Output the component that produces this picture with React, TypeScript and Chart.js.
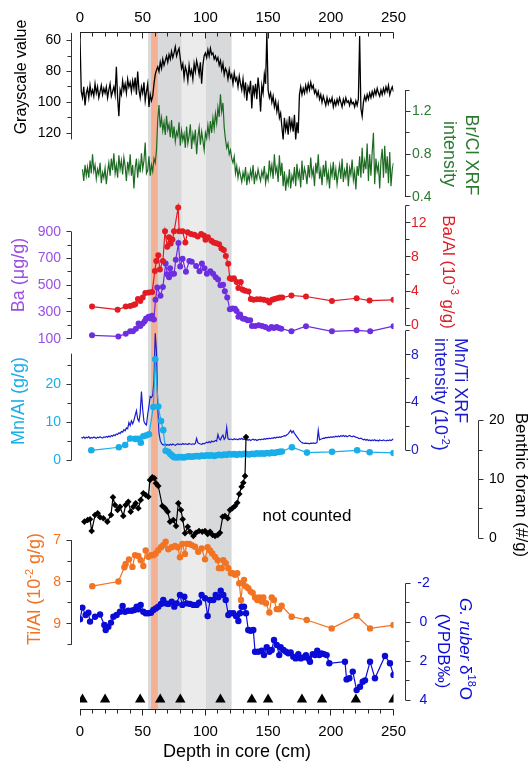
import React, { useEffect, useRef } from "react";
import { Chart, registerables } from "chart.js";

Chart.register(...registerables);

// ---------------- DATA ----------------
// Grayscale, 1 cm sampling from 0 cm
const grayStart = 0;
const grayValue = [
  58, 93, 97, 90, 102, 94, 91, 97, 89, 95,
  92, 96, 88, 94, 90, 97, 93, 89, 95, 91,
  94, 90, 97, 92, 88, 96, 93, 90, 95, 77,
  97, 109, 92, 95, 86, 92, 88, 94, 85, 90,
  87, 93, 86, 91, 84, 95, 80, 92, 97, 90,
  94, 87, 99, 93, 88, 103, 95, 99, 96, 88,
  82, 79, 77, 80, 74, 78, 72, 76, 73, 70,
  74, 69, 72, 67, 71, 68, 64, 70, 67, 65,
  72, 78, 75, 84, 77, 80, 86, 76, 82, 79,
  85, 75, 80, 73, 77, 82, 74, 88, 76, 70,
  68, 71, 66, 70, 65, 69, 68, 72, 70, 73,
  71, 76, 73, 79, 75, 82, 78, 80, 85, 79,
  84, 82, 88, 81, 86, 84, 90, 83, 88, 92,
  85, 94, 87, 99, 90, 93, 86, 104, 89, 95,
  88, 98, 84, 92, 106, 89, 94, 82, 88, 55,
  92, 97, 94, 100, 96, 103, 99, 106, 101, 110,
  107, 116, 124, 110, 118, 113, 121, 109, 117, 112,
  119, 108, 124, 113, 120, 95, 90, 95, 91, 94,
  89, 93, 88, 92, 87, 91, 89, 94, 92, 96,
  93, 98, 95, 100, 96, 99, 102, 97, 101, 98,
  100, 97, 103, 99, 102, 98, 101, 97, 100, 103,
  98, 101, 97, 100, 99, 102, 98, 101, 100, 103,
  99, 102, 98, 57, 104, 109, 100, 96, 99, 95,
  98, 94, 97, 93, 96, 92, 95, 91, 94, 96,
  92, 95, 91, 94, 90, 93, 89, 95, 92, 90,
  93,
];

// Br/Cl XRF intensity, 1 cm sampling from 2 cm
const brclStart = 2;
const brclValue = [
  0.66, 0.55, 0.70, 0.60, 0.68, 0.58, 0.74, 0.62, 0.80, 0.64,
  0.70, 0.57, 0.66, 0.61, 0.72, 0.53, 0.63, 0.58, 0.67, 0.52,
  0.64, 0.72, 0.60, 0.76, 0.65, 0.81, 0.62, 0.70, 0.58, 0.79,
  0.66, 0.74, 0.61, 0.77, 0.69, 0.55, 0.73, 0.64, 0.80, 0.60,
  0.70, 0.48, 0.67, 0.76, 0.58, 0.72, 0.63, 0.81, 0.66, 0.74,
  0.91, 0.62, 0.65, 0.78, 0.60, 0.70, 0.64, 0.76, 0.72, 0.84,
  1.12, 1.26, 1.05, 1.14, 1.02, 1.10, 0.98, 1.16, 1.03, 1.08,
  0.96, 1.12, 0.95, 1.06, 0.92, 1.01, 0.97, 1.10, 0.88, 1.02,
  0.93, 0.99, 0.86, 1.06, 0.90, 0.97, 1.08, 0.85, 0.99, 0.92,
  1.03, 0.80, 0.96, 1.05, 0.89, 1.01, 0.93, 0.84, 1.00, 0.95,
  1.07, 0.97, 1.11, 1.00, 1.14, 1.04, 1.18, 1.09, 1.24, 1.15,
  1.36, 1.20, 1.28, 1.05, 0.94, 0.86, 0.90, 0.80, 0.84, 0.76,
  0.72, 0.78, 0.62, 0.69, 0.58, 0.66, 0.60, 0.54, 0.63, 0.57,
  0.68, 0.51, 0.61, 0.55, 0.65, 0.58, 0.70, 0.52, 0.62, 0.57,
  0.66, 0.60, 0.55, 0.64, 0.59, 0.69, 0.53, 0.61, 0.56, 0.74,
  0.62, 0.70, 0.57, 0.80, 0.63, 0.68, 0.54, 0.79, 0.60, 0.72,
  0.50, 0.64, 0.46, 0.58, 0.52, 0.66, 0.48, 0.60, 0.55, 0.68,
  0.50, 0.71, 0.58, 0.64, 0.49, 0.74, 0.56, 0.67, 0.62, 0.52,
  0.70, 0.58, 0.77, 0.60, 0.66, 0.50, 0.72, 0.62, 0.80, 0.57,
  0.65, 0.51, 0.70, 0.59, 0.74, 0.55, 0.63, 0.48, 0.68, 0.60,
  0.73, 0.56, 0.66, 0.52, 0.62, 0.70, 0.57, 0.76, 0.54, 0.65,
  0.59, 0.72, 0.50, 0.67, 0.61, 0.75, 0.56, 0.64, 0.47, 0.69,
  0.60, 0.78, 0.58, 0.86, 0.62, 0.74, 0.66, 0.90, 0.55, 0.80,
  0.60, 0.82, 1.00, 0.52, 0.76, 0.64, 0.70, 0.48, 0.74, 0.85,
  0.58, 0.88, 0.62, 0.78, 0.53, 0.82, 0.50, 0.66, 0.72,
];

// Ba/Al (10^-3 g/g)
const baalDepth = [
  9.6, 30, 36.5, 40, 42.7, 44, 46.2, 48.1, 50, 52.1, 54.8, 57.5, 59.7, 60.8, 62.4, 63.7, 66.1, 67.8, 69.6, 71,
  72.3, 73.7, 75, 78.3, 79.1, 81.8, 84, 85.8, 88.5, 91.2, 93.9, 96.6, 98.8, 100.1, 102, 104.7, 106.6, 108.7, 110.9, 112.8,
  114.7, 116.3, 118.2, 119.5, 120.9, 122.7, 124.9, 126.3, 128.2, 129.8, 131.7, 134.4, 136.2, 138.4, 141.1, 143.8, 146.5, 149.2, 151, 153.2,
  155.1, 157.3, 159.4, 161.3, 168.6, 180.2, 200.9, 220.6, 230.9, 250,
];
const baalValue = [
  2.18, 1.82, 2.18, 2.26, 2.38, 2.46, 3.08, 2.84, 3.24, 3.76, 3.84, 3.88, 6.34, 7.53, 8.2, 6.54, 7.53, 11.0, 9.19, 10.3,
  9.58, 10.04, 11.0, 13.8, 11.0, 11.0, 9.7, 10.9, 10.7, 10.6, 10.4, 10.7, 10.5, 10.0, 10.3, 9.9, 9.7, 9.6, 9.5, 9.0,
  8.8, 8.1, 7.2, 5.5, 5.4, 5.5, 5.07, 4.35, 5.07, 4.16, 4.04, 3.96, 3.08, 2.97, 3.05, 3.05, 2.97, 2.89, 2.66, 2.97,
  3.08, 3.16, 3.24, 3.24, 3.48, 3.36, 2.84, 3.16, 2.89, 2.97,
];

// Ba (ug/g)
const baDepth = [
  9.6, 30.6, 36.5, 40, 42.2, 44.6, 46.7, 48.1, 50, 51.6, 52.7, 54.8, 56.2, 57.5, 58.9, 60.2, 61.6, 64.2, 66.1, 68.3,
  69.6, 71, 71.8, 73.7, 75, 76.4, 78.5, 79.9, 81.8, 84.5, 87.2, 89.1, 92.6, 95.3, 97.2, 99.3, 101.2, 103.9, 106.1, 108.2,
  110.1, 112, 114.1, 115.5, 117.4, 119.5, 121.7, 123.6, 124.9, 126.3, 127.7, 129.8, 131.7, 133.6, 135.7, 137.1, 139.7, 142.5, 145.2, 147.8,
  150.6, 152.7, 154.6, 156.8, 158.6, 160.5, 168.6, 180.2, 200.9, 220.6, 231.4, 250,
];
const baValue = [
  125, 117, 137, 155, 155, 175, 213, 195, 213, 231, 252, 264, 252, 272, 244, 391, 484, 421, 488, 663,
  582, 561, 627, 586, 586, 692, 816, 641, 698, 602, 682, 677, 644, 606, 663, 627, 586, 606, 586, 561,
  543, 500, 505, 455, 409, 320, 327, 324, 307, 264, 282, 252, 247, 239, 239, 195, 195, 201, 195, 188,
  175, 188, 181, 188, 181, 175, 155, 194, 155, 163, 155, 194,
];

// Mn/Al (g/g)
const mnalDepth = [
  9, 31, 36, 40, 44, 46.5, 48.5, 50.5, 52.5, 55, 58.5, 60, 62.4, 64.6, 66.4, 68.3, 70.4, 72, 73.5, 75,
  77, 79, 81, 83, 85, 87, 89, 91, 93, 95, 97, 99, 101, 103, 105, 107, 109, 111, 113, 115,
  117, 119, 121, 123, 125, 127, 129, 131, 133, 135, 137, 139, 141, 143, 145, 147, 149, 151, 153, 155,
  157, 159, 161, 169, 181, 201, 221, 231, 250,
];
const mnalValue = [
  2.6, 3.4, 4.0, 5.7, 5.6, 5.6, 4.6, 6.3, 6.5, 6.8, 14.0, 26.5, 14.1, 10.3, 7.9, 2.5, 2.2, 1.6, 1.2, 0.8,
  0.7, 0.8, 0.8, 0.7, 0.9, 1.0, 0.9, 1.0, 1.1, 1.0, 1.2, 1.1, 1.3, 1.2, 1.3, 1.1, 1.3, 1.4, 1.3, 1.5,
  1.4, 1.6, 1.5, 1.6, 1.4, 1.6, 1.5, 1.7, 1.6, 1.5, 1.7, 1.6, 1.8, 1.7, 1.8, 1.7, 1.9, 1.8, 2.0, 1.9,
  2.1, 2.2, 2.3, 3.4, 2.0, 2.2, 2.6, 2.1, 1.9,
];

// Mn/Ti XRF intensity (10^-2), 1 cm sampling from 1 cm
const mntiStart = 1;
const mntiValue = [
  1.05, 1.00, 1.10, 0.98, 1.08, 1.02, 1.12, 0.97, 1.05, 1.00,
  1.10, 1.04, 0.98, 1.08, 1.02, 1.12, 1.05, 1.00, 1.10, 1.06,
  1.14, 1.08, 1.18, 1.10, 1.22, 1.15, 1.28, 1.20, 1.35, 1.30,
  1.45, 1.38, 1.55, 1.50, 1.70, 1.62, 1.85, 1.78, 2.30, 2.05,
  2.45, 2.20, 2.50, 2.90, 3.30, 2.60, 2.40, 3.10, 4.90, 3.40,
  2.40, 2.20, 2.10, 3.00, 3.70, 4.50, 4.40, 4.60, 5.90, 9.80,
  8.20, 3.60, 1.40, 0.80, 0.55, 0.45, 0.42, 0.50, 0.40, 0.45,
  0.40, 0.48, 0.42, 0.50, 0.44, 0.40, 0.46, 0.52, 0.45, 0.50,
  0.45, 0.55, 0.48, 0.52, 0.50, 0.46, 0.55, 0.50, 0.48, 0.52,
  0.48, 0.55, 0.98, 0.60, 0.55, 0.50, 0.48, 0.55, 0.52, 0.58,
  0.65, 0.60, 0.70, 0.62, 0.75, 0.68, 0.72, 0.80, 0.74, 1.30,
  0.95, 0.85, 1.10, 1.25, 0.90, 1.05, 1.90, 0.95, 0.88, 0.92,
  0.90, 0.85, 0.95, 0.88, 0.92, 0.86, 0.95, 0.90, 0.98, 0.88,
  0.92, 0.85, 0.90, 0.82, 0.88, 0.80, 0.86, 0.90, 0.84, 0.88,
  0.80, 0.85, 0.90, 0.86, 0.92, 0.88, 0.95, 0.90, 0.98, 0.94,
  1.00, 0.95, 1.02, 0.98, 1.05, 1.00, 1.08, 1.04, 1.10, 1.06,
  1.12, 1.15, 1.20, 1.18, 1.28, 1.35, 1.50, 1.65, 1.45, 1.60,
  1.40, 1.25, 1.10, 0.95, 0.80, 0.70, 0.62, 0.58, 0.55, 0.58,
  0.55, 0.56, 0.52, 0.58, 0.55, 0.60, 0.56, 0.58, 0.62, 1.65,
  0.85, 0.90, 0.95, 1.00, 0.98, 1.05, 1.02, 1.08, 1.05, 1.10,
  1.06, 1.12, 1.08, 1.15, 1.10, 1.18, 1.12, 1.20, 1.15, 1.22,
  1.14, 1.20, 1.12, 1.18, 1.22, 1.15, 1.10, 1.18, 1.12, 1.08,
  1.05, 1.00, 0.95, 1.00, 0.92, 0.85, 0.90, 0.82, 0.88, 0.80,
  0.85, 0.78, 0.84, 0.80, 0.86, 0.78, 0.82, 0.76, 0.84, 0.80,
  0.78, 0.85, 0.80, 0.76, 0.82, 0.78, 0.84, 0.80, 0.86, 0.96,
];

// Benthic foraminifera (#/g)
const benDepth = [
  3.5, 6.1, 8, 9.3, 12, 14.1, 16, 18.6, 21.8, 24.7, 26.3, 27.9, 30, 31.9, 34.5, 36.4, 38.5, 40.4, 42.5, 44.4,
  46.5, 48.4, 50.5, 52.4, 54.5, 55.8, 57.7, 59.3, 60.6, 62.4, 65.7, 67.8, 69.9, 71.8, 74.4, 76.6, 78.4, 80.5, 81.9, 83.7,
  85.9, 87.7, 90.4, 92.5, 94.9, 97.5, 99.7, 101.8, 103.7, 105.8, 107.7, 109.8, 111.6, 113.8, 115.6, 117.8, 119.6, 121.5, 123.6, 125.4,
  127, 128.9, 130.2, 131.6, 132.4,
];
const benValue = [
  2.84, 3.12, 3.24, 1.26, 3.97, 4.26, 3.58, 3.41, 2.84, 3.97, 6.98, 5.67, 4.82, 5.38, 3.8, 5.67, 6.23, 4.54, 5.38, 5.96,
  5.11, 6.52, 7.66, 7.37, 7.08, 9.92, 10.37, 10.2, 9.35, 8.9, 5.5, 5.1, 4.54, 2.84, 3.12, 2.1, 5.96, 4.82, 3.24, 0.87,
  1.99, 1.14, 0.41, 0.97, 1.26, 1.14, 1.26, 0.75, 1.14, 0.58, 0.41, 0.58, 0.97, 3.68, 3.8, 3.41, 4.82, 5.11, 5.5, 6.06,
  7.54, 8.78, 9.46, 10.6, 17.2,
];

// Ti/Al (10^-2 g/g)
const tialDepth = [
  9.8, 30.6, 35.4, 36.4, 39.1, 41.8, 43.9, 46.5, 48.4, 50.5, 52.4, 54.5, 56.6, 58.5, 60.4, 62.4, 64.6, 66.4, 68.3, 70.4,
  73.1, 75.8, 77.9, 79.7, 81.6, 83.7, 85.1, 87.2, 89.1, 91.7, 94.3, 97, 99.7, 101.8, 103.7, 105.5, 107.7, 109.8, 110.8, 113,
  114.3, 116.2, 118.3, 120.4, 121.7, 123.6, 125.4, 127, 128.4, 129.7, 130.8, 132.4, 134.2, 136.1, 137.7, 139.6, 141.4, 143, 144.9, 146.2,
  148.3, 151, 152.9, 154.7, 156.9, 158.9, 160.8, 168.8, 180.8, 200.7, 220.6, 231.3, 250,
];
const tialValue = [
  8.10, 7.99, 7.65, 7.57, 7.46, 7.64, 7.36, 7.38, 7.48, 7.62, 7.25, 7.40, 7.36, 7.36, 7.32, 7.24, 7.17, 7.12, 7.04, 7.22,
  7.17, 7.14, 7.17, 7.41, 7.09, 7.33, 7.09, 7.09, 7.12, 7.16, 7.28, 7.20, 7.46, 7.17, 7.25, 7.32, 7.40, 7.48, 7.67, 7.67,
  7.48, 7.55, 7.67, 7.79, 7.79, 7.83, 7.79, 8.03, 8.43, 8.03, 7.95, 8.11, 8.15, 8.23, 8.26, 8.37, 8.43, 8.37, 8.47, 8.37,
  8.51, 8.73, 8.37, 8.43, 8.65, 8.65, 8.57, 8.83, 8.91, 9.11, 8.81, 9.11, 9.03,
];

// G. ruber d18O (VPDB permil)
const d18oDepth = [
  0, 1.9, 4.5, 6.7, 8, 12, 16, 19.4, 20.5, 22.6, 24.7, 26.6, 29.2, 31.9, 34, 35.9, 38.5, 41.2, 43.3, 45.2,
  46.5, 48.4, 50.5, 52.4, 54.5, 56.6, 58.5, 60.4, 62.4, 64.6, 66.4, 68.3, 70.4, 73.1, 75.2, 77.1, 79.7, 81.6, 83.2, 85.1,
  87.7, 90.4, 93, 94.9, 97, 99.7, 101.8, 103.7, 106.3, 108.2, 110.3, 112.2, 114.3, 116.2, 118.3, 119.6, 122.3, 124.4, 126.3, 127.6,
  128.9, 130.8, 132.4, 134.2, 136.1, 138.2, 139.6, 142.2, 144.9, 146.7, 148.9, 151, 152.9, 154.7, 156.9, 158.9, 160, 162.2, 164.3, 166.1,
  168, 170.1, 172, 174.1, 176, 178.1, 180.2, 182.1, 183.4, 185.6, 187.4, 189.2, 190.8, 192.7, 194.6, 196.7, 198.8, 211.3, 212.6, 214.8,
  217.5, 220.6, 223.3, 225.4, 227.3, 231.3, 235.2, 243.2, 247.2, 250,
];
const d18oValue = [
  -0.16, -0.76, -0.38, -0.5, -0.04, -0.29, -0.41, 0.13, 0.39, 0.22, 0.01, -0.29, -0.38, -0.55, -0.84, -0.55, -0.6, -0.6, -0.64, -0.81,
  -0.67, -0.9, -0.55, -0.47, -0.47, -0.5, -0.64, -0.72, -0.81, -0.95, -1.15, -0.98, -0.95, -1.06, -0.81, -0.98, -1.41, -0.9, -1.32, -0.98,
  -0.95, -0.9, -0.9, -1.01, -1.41, -1.24, -0.33, -1.15, -1.15, -1.41, -1.29, -1.63, -1.41, -1.15, -0.38, -0.47, -0.47, -0.33, -0.07, -0.47,
  -0.81, -0.81, -0.47, 0.39, 0.43, 0.39, 1.51, 1.51, 1.46, 1.68, 1.28, 1.51, 1.42, 0.9, 1.16, 1.68, 1.28, 1.42, 1.51, 1.59,
  1.55, 1.76, 1.85, 1.63, 1.85, 1.8, 1.68, 1.85, 2.02, 1.63, 1.68, 1.46, 1.68, 1.59, 1.63, 1.68, 2.1, 2.02, 2.93, 2.87,
  2.53, 3.48, 3.31, 3.05, 2.98, 2.02, 2.87, 1.73, 2.1, 2.7,
];

// Age-control points (triangles)
const ageDepth = [2, 20, 48, 64, 80, 112, 137, 150, 177, 193, 220, 250];
const ageMarkerLevel = 1.4;

// Shaded intervals (cm)
const shadeFrom = [54.3, 81.2, 100.4, 56.7];
const shadeTo = [81.2, 100.4, 120.9, 62.1];

// Axis ticks
const depthMajorTicks = [0, 50, 100, 150, 200, 250];

// ---------------- STYLE / LAYOUT ----------------
const W = 530;
const H = 761;
const AREA = { left: 80, right: 393.5, top: 32.5, bottom: 709 };
const FONT = '"Liberation Sans", Arial, Helvetica, sans-serif';

const C = {
  gray: "#000000",
  green: "#1d6b22",
  greenLbl: "#2c7a30",
  red: "#e31b23",
  purple: "#6d2ee0",
  purpleLbl: "#9a4fe4",
  cyan: "#19aeea",
  blue: "#1c1cd0",
  blue2: "#0b0bd6",
  orange: "#f27321",
  axis: "#333333",
  dark: "#d8d9db",
  light: "#eaebea",
  salmon: "#f5b094",
};
const shadeColor = [C.dark, C.light, C.dark, C.salmon];

// value->pixel anchors for each y scale
function scaleFrom(v1: number, p1: number, v2: number, p2: number) {
  const k = (v2 - v1) / (p2 - p1);
  const vTop = v1 + (AREA.top - p1) * k;
  const vBot = v1 + (AREA.bottom - p1) * k;
  return { min: Math.min(vTop, vBot), max: Math.max(vTop, vBot), reverse: vTop < vBot };
}

const Y = {
  yGray: scaleFrom(60, 40.6, 120, 133.2),
  yBrcl: scaleFrom(1.2, 111.5, 0.4, 197),
  yBaal: scaleFrom(12, 222.8, 0, 325.2),
  yBa: scaleFrom(900, 231.9, 100, 338.7),
  yMnal: scaleFrom(20, 384.1, 0, 460.2),
  yMnti: scaleFrom(8, 354.7, 0, 450),
  yBen: scaleFrom(20, 420.6, 0, 538.4),
  yTial: scaleFrom(7, 540.1, 9, 623.8),
  yD18o: scaleFrom(-2, 583.5, 4, 700.2),
  yTri: scaleFrom(0, AREA.bottom, 100, AREA.top),
};

type AxisSpec = {
  id: string; x: number; side: "left" | "right"; from: number; to: number;
  ticks: number[]; labels: [number, string][]; color: string; lblX: number; lblAlign: CanvasTextAlign;
};

const AXES: AxisSpec[] = [
  { id: "yGray", x: 71, side: "left", from: 55, to: 124, ticks: [60, 70, 80, 90, 100, 110, 120],
    labels: [[60, "60"], [80, "80"], [100, "100"], [120, "120"]], color: "#000", lblX: 61, lblAlign: "right" },
  { id: "yBrcl", x: 405, side: "right", from: 0.4, to: 1.4, ticks: [0.4, 0.6, 0.8, 1.0, 1.2, 1.4],
    labels: [[0.4, "0.4"], [0.8, "0.8"], [1.2, "1.2"]], color: C.greenLbl, lblX: 412, lblAlign: "left" },
  { id: "yBaal", x: 405, side: "right", from: 0, to: 14, ticks: [0, 2, 4, 6, 8, 10, 12, 14],
    labels: [[0, "0"], [4, "4"], [8, "8"], [12, "12"]], color: C.red, lblX: 411, lblAlign: "left" },
  { id: "yBa", x: 71, side: "left", from: 100, to: 900, ticks: [100, 200, 300, 400, 500, 600, 700, 800, 900],
    labels: [[100, "100"], [300, "300"], [500, "500"], [700, "700"], [900, "900"]], color: C.purpleLbl, lblX: 61, lblAlign: "right" },
  { id: "yMnal", x: 71, side: "left", from: 0, to: 28, ticks: [0, 5, 10, 15, 20, 25],
    labels: [[0, "0"], [10, "10"], [20, "20"]], color: C.cyan, lblX: 61, lblAlign: "right" },
  { id: "yMnti", x: 405, side: "right", from: 0, to: 10, ticks: [0, 2, 4, 6, 8, 10],
    labels: [[0, "0"], [4, "4"], [8, "8"]], color: C.blue, lblX: 411, lblAlign: "left" },
  { id: "yBen", x: 478, side: "right", from: 0, to: 20, ticks: [0, 5, 10, 15, 20],
    labels: [[0, "0"], [10, "10"], [20, "20"]], color: "#000", lblX: 489, lblAlign: "left" },
  { id: "yTial", x: 71, side: "left", from: 7, to: 9.5, ticks: [7, 7.5, 8, 8.5, 9, 9.5],
    labels: [[7, "7"], [8, "8"], [9, "9"]], color: C.orange, lblX: 61, lblAlign: "right" },
  { id: "yD18o", x: 405, side: "right", from: -2, to: 4, ticks: [-2, -1, 0, 1, 2, 3, 4],
    labels: [[-2, "-2"], [0, "0"], [2, "2"], [4, "4"]], color: C.blue2, lblX: 423.5, lblAlign: "center" },
];

type Seg = { t: string; i?: boolean; s?: boolean };
type Title = { segs: Seg[]; x: number; y: number; rot: number; color: string; size: number; align?: "center" | "left" };

const TITLES: Title[] = [
  { segs: [{ t: "Grayscale value" }], x: 22, y: 77, rot: -90, color: "#000", size: 16 },
  { segs: [{ t: "Br/Cl XRF" }], x: 471, y: 155, rot: 90, color: C.greenLbl, size: 18 },
  { segs: [{ t: "intensity" }], x: 449, y: 154, rot: 90, color: C.greenLbl, size: 18 },
  { segs: [{ t: "Ba (μg/g)" }], x: 19, y: 275, rot: -90, color: C.purpleLbl, size: 18 },
  { segs: [{ t: "Ba/Al (10" }, { t: "-3", s: true }, { t: " g/g)" }], x: 448, y: 272, rot: 90, color: C.red, size: 17 },
  { segs: [{ t: "Mn/Al (g/g)" }], x: 19, y: 401, rot: -90, color: C.cyan, size: 18 },
  { segs: [{ t: "Mn/Ti XRF" }], x: 460, y: 338, rot: 90, color: C.blue, size: 18, align: "left" },
  { segs: [{ t: "intensity (10" }, { t: "-2", s: true }, { t: ")" }], x: 439.5, y: 338, rot: 90, color: C.blue, size: 18, align: "left" },
  { segs: [{ t: "Benthic foram (#/g)" }], x: 521, y: 485, rot: 90, color: "#000", size: 17 },
  { segs: [{ t: "Ti/Al (10" }, { t: "-2", s: true }, { t: " g/g)" }], x: 35.5, y: 589, rot: -90, color: C.orange, size: 18 },
  { segs: [{ t: "G. ruber", i: true }, { t: " δ" }, { t: "18", s: true }, { t: "O" }], x: 465, y: 649, rot: 90, color: C.blue2, size: 17 },
  { segs: [{ t: "(VPDB‰)" }], x: 443, y: 651, rot: 90, color: C.blue2, size: 17 },
  { segs: [{ t: "not counted" }], x: 307, y: 516, rot: 0, color: "#000", size: 17 },
  { segs: [{ t: "Depth in core (cm)" }], x: 237, y: 752, rot: 0, color: "#000", size: 18 },
];

function drawRich(ctx: CanvasRenderingContext2D, tt: Title) {
  const fontOf = (sg: Seg) => `${sg.i ? "italic " : ""}${sg.s ? Math.round(tt.size * 0.62) : tt.size}px ${FONT}`;
  ctx.save();
  ctx.translate(tt.x, tt.y);
  ctx.rotate((tt.rot * Math.PI) / 180);
  ctx.fillStyle = tt.color;
  ctx.textBaseline = "middle";
  ctx.textAlign = "left";
  let total = 0;
  for (const sg of tt.segs) { ctx.font = fontOf(sg); total += ctx.measureText(sg.t).width; }
  let cx = tt.align === "left" ? 0 : -total / 2;
  for (const sg of tt.segs) {
    ctx.font = fontOf(sg);
    ctx.fillText(sg.t, cx, sg.s ? -tt.size * 0.33 : 0);
    cx += ctx.measureText(sg.t).width;
  }
  ctx.restore();
}

const crisp = (v: number) => Math.round(v - 0.5) + 0.5;

const overlayPlugin = {
  id: "overlay",
  beforeDatasetsDraw(chart: any) {
    const { ctx, chartArea, scales } = chart;
    const xs = scales.x;
    ctx.save();
    for (let i = 0; i < shadeFrom.length; i++) {
      const x1 = xs.getPixelForValue(shadeFrom[i]);
      const x2 = xs.getPixelForValue(shadeTo[i]);
      ctx.fillStyle = shadeColor[i];
      ctx.fillRect(x1, chartArea.top, x2 - x1, chartArea.bottom - chartArea.top);
    }
    ctx.restore();
  },
  afterDatasetsDraw(chart: any) {
    const { ctx, chartArea, scales } = chart;
    const xs = scales.x;
    ctx.save();
    ctx.lineWidth = 1;
    ctx.strokeStyle = C.axis;

    // top and bottom depth axes
    const x0 = xs.getPixelForValue(0);
    const x1 = xs.getPixelForValue(250);
    for (const [yy, lblY] of [[crisp(chartArea.top), 18], [crisp(chartArea.bottom), 732]] as [number, number][]) {
      ctx.strokeStyle = "#222";
      ctx.beginPath();
      ctx.moveTo(x0, yy);
      ctx.lineTo(x1, yy);
      for (let d = 0; d <= 250; d += 10) {
        const px = crisp(xs.getPixelForValue(d));
        const len = d % 50 === 0 ? 6 : 4;
        ctx.moveTo(px, yy);
        ctx.lineTo(px, yy + len);
      }
      ctx.stroke();
      ctx.fillStyle = "#000";
      ctx.font = `15px ${FONT}`;
      ctx.textAlign = "center";
      ctx.textBaseline = "middle";
      for (const d of depthMajorTicks) ctx.fillText(String(d), xs.getPixelForValue(d), lblY);
    }

    // y axes
    for (const ax of AXES) {
      const sc = scales[ax.id];
      const xx = crisp(ax.x);
      const dir = ax.side === "left" ? -1 : 1;
      ctx.strokeStyle = C.axis;
      ctx.beginPath();
      ctx.moveTo(xx, sc.getPixelForValue(ax.from));
      ctx.lineTo(xx, sc.getPixelForValue(ax.to));
      const labeled = new Set(ax.labels.map((l) => l[0]));
      for (const t of ax.ticks) {
        const py = crisp(sc.getPixelForValue(t));
        const len = labeled.has(t) ? 5 : 4;
        ctx.moveTo(xx, py);
        ctx.lineTo(xx + dir * len, py);
      }
      ctx.stroke();
      ctx.fillStyle = ax.color;
      ctx.font = `14px ${FONT}`;
      ctx.textAlign = ax.lblAlign;
      ctx.textBaseline = "middle";
      for (const [v, s] of ax.labels) ctx.fillText(s, ax.lblX, sc.getPixelForValue(v));
    }
    ctx.restore();

    for (const tt of TITLES) drawRich(ctx, tt);
  },
};

const pts = (xs: number[], ys: number[]) => xs.map((x, i) => ({ x, y: ys[i] }));
const regular = (start: number, ys: number[]) => ys.map((y, i) => ({ x: start + i, y }));

export default function App() {
  const ref = useRef<HTMLCanvasElement | null>(null);
  useEffect(() => {
    if (!ref.current) return;
    const dotted = (color: string, r: number, style: any = "circle") => ({
      borderColor: color,
      backgroundColor: color,
      pointBackgroundColor: color,
      pointBorderColor: color,
      pointBorderWidth: 0,
      pointRadius: r,
      pointStyle: style,
      borderWidth: 1.2,
      showLine: true,
      tension: 0,
    });
    const lineOnly = (color: string, w: number) => ({
      borderColor: color,
      backgroundColor: color,
      pointRadius: 0,
      borderWidth: w,
      showLine: true,
      tension: 0,
    });
    const scalesCfg: any = {
      x: { type: "linear", min: 0, max: 250, display: false },
    };
    for (const [id, s] of Object.entries(Y)) {
      scalesCfg[id] = { type: "linear", axis: "y", display: false, min: s.min, max: s.max, reverse: s.reverse, bounds: "data", grace: 0 };
    }
    const chart = new Chart(ref.current, {
      type: "scatter",
      data: {
        datasets: [
          { label: "Age control", data: ageDepth.map((d) => ({ x: d, y: ageMarkerLevel })), yAxisID: "yTri",
            pointStyle: "triangle", pointRadius: 6, pointBackgroundColor: "#000", pointBorderColor: "#000", pointBorderWidth: 0, showLine: false } as any,
          { label: "Benthic foram", data: pts(benDepth, benValue), yAxisID: "yBen", ...dotted("#000", 3.3, "rectRot") } as any,
          { label: "d18O", data: pts(d18oDepth, d18oValue), yAxisID: "yD18o", ...dotted(C.blue2, 3.2) } as any,
          { label: "Ti/Al", data: pts(tialDepth, tialValue), yAxisID: "yTial", ...dotted(C.orange, 3.2) } as any,
          { label: "Mn/Al", data: pts(mnalDepth, mnalValue), yAxisID: "yMnal", ...dotted(C.cyan, 3.3) } as any,
          { label: "Mn/Ti", data: regular(mntiStart, mntiValue), yAxisID: "yMnti", ...lineOnly(C.blue, 1.2) } as any,
          { label: "Ba/Al", data: pts(baalDepth, baalValue), yAxisID: "yBaal", ...dotted(C.red, 3) } as any,
          { label: "Ba", data: pts(baDepth, baValue), yAxisID: "yBa", ...dotted(C.purple, 3) } as any,
          { label: "Br/Cl", data: regular(brclStart, brclValue), yAxisID: "yBrcl", ...lineOnly(C.green, 1.2) } as any,
          { label: "Grayscale", data: regular(grayStart, grayValue), yAxisID: "yGray", ...lineOnly(C.gray, 1.3) } as any,
        ],
      },
      options: {
        responsive: false,
        devicePixelRatio: 1,
        animation: false,
        events: [],
        layout: { padding: { left: AREA.left, right: W - AREA.right, top: AREA.top, bottom: H - AREA.bottom } },
        plugins: { legend: { display: false }, tooltip: { enabled: false } },
        scales: scalesCfg,
      } as any,
      plugins: [overlayPlugin],
    });
    return () => chart.destroy();
  }, []);
  return (
    <div style={{ position: "absolute", left: 0, top: 0, width: W, height: H, background: "#fff" }}>
      <canvas ref={ref} width={W} height={H} style={{ width: W, height: H, display: "block" }} />
    </div>
  );
}
